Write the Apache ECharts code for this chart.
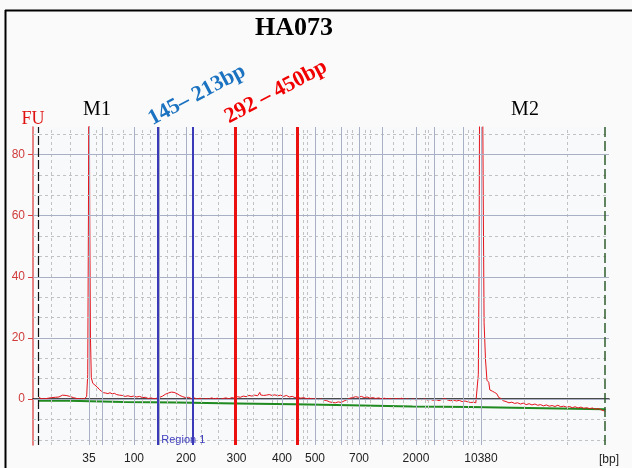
<!DOCTYPE html>
<html>
<head>
<meta charset="utf-8">
<script src="https://cdn.jsdelivr.net/npm/echarts@6/dist/echarts.min.js"></script>
<style>
  html, body { margin: 0; padding: 0; background: #fafafa; }
  #chart { width: 632px; height: 468px; }
</style>
</head>
<body>
<div id="chart"></div>
<script>
// x axis is migration time (s); bp ladder sits at these times
const ladderBp = [35, 50, 100, 150, 200, 300, 400, 500, 600, 700, 1000, 2000, 3000, 7000, 10380]
const ladderTime = [47.78, 49.65, 54.03, 57.5, 61.25, 68.26, 74.58, 79.17, 82.78, 85.28, 88.47, 93.19, 95.69, 99.72, 102.22]
const labeledBp = [35, 100, 200, 300, 400, 500, 700, 2000, 10380]
const minorGridTime = [42.5, 45.14, 48.75, 50.97, 52.5, 55.14, 56.25, 58.61, 59.86, 63.33, 65.69, 69.72, 70.56,
  73.19, 73.89, 77.5, 78.06, 80.28, 81.53, 83.61, 84.31, 86.11, 86.81, 90.0, 91.39, 94.44, 94.86, 96.94,
  98.19, 100.42, 101.11, 108.19, 114.17]
const fuTicks = [0, 20, 40, 60, 80]
const fuMinor = [-13.33, -6.67, 6.67, 13.33, 26.67, 33.33, 46.67, 53.33, 66.67, 73.33, 86.67]

const region1Time = [57.26, 62.12]   // 145 - 213 bp
const region2Time = [68.06, 76.67]   // 292 - 450 bp
const markerLow = 40.76
const markerHigh = 119.44

// electropherogram trace [time, FU]
const trace = [
  [40.8, 0.6], [41.1, 0.2], [41.3, 0.5], [41.6, 0.1], [41.8, 0.5], [42.1, 0.3], [42.3, 0.1], [42.6, 0.5],
  [42.8, 0.3], [43.1, 0.6], [43.3, 0.2], [43.6, 0.7], [43.8, 0.9], [44.1, 1.3], [44.3, 1.0], [44.6, 1.2],
  [44.8, 0.8], [45.1, 0.9], [45.3, 0.4], [45.6, 0.5], [45.8, 0.1], [46.1, 0.2], [46.3, -0.1], [46.6, 0.1],
  [46.8, -0.2], [47.1, 0.1], [47.3, 0.3], [47.45, 0.8],
  [47.6, 8], [47.7, 60], [47.78, 130], [47.88, 60], [47.98, 20], [48.1, 7], [48.3, 5.2], [48.6, 4.6],
  [48.9, 4.0], [49.2, 3.2], [49.5, 2.6], [49.8, 2.1], [50.1, 2.0], [50.4, 1.8], [50.7, 2.1], [51.0, 1.7],
  [51.3, 1.9], [51.6, 1.5], [52.0, 1.3], [52.4, 1.2], [52.8, 0.9], [53.2, 1.1], [53.6, 0.8], [54.0, 1.0],
  [54.4, 0.7], [54.8, 0.9], [55.2, 0.5], [55.6, 0.6], [56.0, 0.2], [56.4, 0.4], [56.8, 0.1], [57.2, 0.3],
  [57.6, 0.6], [58.0, 1.0], [58.4, 1.6], [58.8, 2.0], [59.2, 2.3], [59.6, 2.2], [60.0, 1.8], [60.4, 1.2],
  [60.8, 0.8], [61.2, 0.5], [61.6, 0.6], [62.0, 0.2], [62.4, 0.4], [62.8, 0.0], [63.2, 0.3], [63.6, -0.1],
  [64.0, 0.2], [64.4, 0.0], [64.8, 0.4], [65.2, 0.1], [65.6, 0.3], [66.0, -0.1], [66.4, 0.2], [66.8, 0.4],
  [67.2, 0.1], [67.6, 0.5], [68.0, 0.3], [68.4, 0.8], [68.8, 0.6], [69.2, 1.0], [69.6, 0.8], [70.0, 1.2],
  [70.4, 1.0], [70.8, 1.3], [71.2, 1.1], [71.5, 2.2], [71.6, 1.4], [72.0, 1.2], [72.4, 1.3], [72.8, 1.5],
  [73.2, 1.2], [73.6, 1.4], [74.0, 1.1], [74.4, 1.3], [74.8, 0.9], [75.2, 1.2], [75.6, 0.7], [76.0, 0.9],
  [76.4, 0.5], [76.8, 0.6], [77.2, 0.3], [77.6, 0.5], [78.0, 0.1], [78.4, 0.3], [78.8, 0.0], [79.2, 0.2],
  [79.6, -0.2], [80.0, 0.1], [80.4, -0.3], [80.8, -0.5], [81.2, -0.9], [81.6, -1.1], [82.0, -1.2], [82.4, -0.9],
  [82.8, -1.1], [83.2, -0.6], [83.6, -0.2], [84.0, 0.3], [84.4, 0.5], [84.8, 0.8], [85.2, 0.6], [85.6, 0.9],
  [86.0, 0.5], [86.4, 0.7], [86.8, 0.3], [87.2, 0.5], [87.6, 0.2], [88.0, 0.4], [88.4, 0.1], [88.8, 0.3],
  [89.2, 0.0], [89.6, 0.2], [90.0, -0.1], [90.4, 0.2], [90.8, 0.0], [91.2, 0.3], [91.6, -0.1], [92.0, 0.1],
  [92.4, -0.2], [92.8, 0.1], [93.2, -0.3], [93.6, 0.0], [94.0, -0.2], [94.4, 0.1], [94.8, -0.3], [95.2, -0.1],
  [95.6, -0.4], [96.0, -0.2], [96.4, -0.5], [96.8, -0.1], [97.2, 0.2], [97.6, -0.3], [98.0, -0.5], [98.4, -0.3],
  [98.8, -0.6], [99.2, -0.4], [99.6, -0.8], [100.0, -0.6], [100.4, -0.9], [100.8, -1.1], [101.2, -1.0],
  [101.5, -1.2], [101.7, -1.0], [101.85, 8], [101.95, 40], [102.05, 120], [102.1, 125], [102.35, 140],
  [102.55, 60], [102.65, 25], [102.85, 12.8], [103.05, 6.2], [103.3, 5.5], [103.45, 3.0], [103.8, 2.6],
  [104.1, 2.2], [104.4, 1.8], [104.7, 0.5], [105.0, 0.2], [105.3, -0.5], [105.7, -0.8], [106.1, -1.2],
  [106.5, -1.0], [106.9, -1.4], [107.3, -1.2], [107.7, -1.6], [108.1, -1.3], [108.5, -1.8], [108.9, -1.5],
  [109.3, -1.9], [109.7, -1.6], [110.1, -2.0], [110.5, -1.8], [110.9, -2.2], [111.3, -1.9], [111.7, -2.3],
  [112.1, -2.1], [112.5, -2.4], [112.9, -2.0], [113.3, -2.5], [113.7, -2.3], [114.1, -2.6], [114.5, -2.4],
  [114.9, -2.8], [115.3, -2.5], [115.7, -2.9], [116.1, -2.6], [116.5, -3.0], [116.9, -2.8], [117.3, -3.1],
  [117.7, -2.9], [118.1, -3.3], [118.5, -3.1], [118.9, -3.5], [119.3, -3.8], [119.5, -4.0]
]

// baseline (stepped)
const baseline = [
  [40.8, -0.5], [45.0, -0.9], [52.6, -1.1], [60.0, -1.4], [68.3, -1.7], [76.3, -2.0], [84.0, -2.4],
  [92.7, -2.6], [100.7, -2.9], [108.8, -3.3], [119.4, -3.6]
]

const chart = echarts.init(document.getElementById('chart'))

const vLines = (arr) => arr.map(t => ({ xAxis: t }))
const hLines = (arr) => arr.map(v => ({ yAxis: v }))
const mark = (data, lineStyle) => ({
  silent: true, symbol: 'none', animation: false,
  label: { show: false }, emphasis: { disabled: true },
  lineStyle, data
})
const bpFor = (t) => {
  const i = ladderTime.findIndex(v => Math.abs(v - t) < 0.001)
  return i < 0 ? '' : String(ladderBp[i])
}
const labelTimes = labeledBp.map(bp => ladderTime[ladderBp.indexOf(bp)])

chart.setOption({
  backgroundColor: '#fafafa',
  animation: false,
  grid: { left: 33, right: 23, top: 127, bottom: 23, show: true, backgroundColor: '#f8f9fb', borderWidth: 0 },
  xAxis: {
    type: 'value', min: 40, max: 120,
    axisLine: { lineStyle: { color: '#111', width: 1.5 } },
    axisTick: { customValues: ladderTime, length: 5, lineStyle: { color: '#222' } },
    axisLabel: {
      customValues: labelTimes, formatter: bpFor, margin: 8,
      color: '#222', fontFamily: 'Liberation Sans', fontSize: 12
    },
    splitLine: { show: false }
  },
  yAxis: {
    type: 'value', min: -15, max: 89,
    axisLine: { show: true, lineStyle: { color: '#e05a5a', width: 1.5 } },
    axisTick: { show: true, customValues: fuTicks, length: 5, lineStyle: { color: '#d84040' } },
    axisLabel: {
      customValues: fuTicks, margin: 8,
      color: '#d03c3c', fontFamily: 'Liberation Sans', fontSize: 12
    },
    splitLine: { show: false }
  },
  series: [
    {
      type: 'line', data: [], z: 1,
      markLine: mark(vLines(minorGridTime).concat(hLines(fuMinor)),
        { color: '#c2c2c2', type: [3, 3], width: 1 })
    },
    {
      type: 'line', data: [], z: 1,
      markLine: mark(vLines(ladderTime).concat(hLines(fuTicks)),
        { color: '#a9b0c6', type: 'solid', width: 1 })
    },
    {
      type: 'line', data: baseline, step: 'end', z: 3, showSymbol: false, silent: true,
      lineStyle: { color: '#1f8a1f', width: 2 }
    },
    {
      type: 'line', data: trace, z: 3, showSymbol: false, silent: true, clip: true,
      lineStyle: { color: '#e3141c', width: 1 }
    },
    {
      type: 'line', data: [], z: 2,
      markLine: mark([{ xAxis: markerLow }], { color: '#111', type: [9, 3], width: 1.2 })
    },
    {
      type: 'line', data: [], z: 2,
      markLine: mark([{ xAxis: markerHigh }], { color: '#2e5e2e', type: [10, 4], width: 1.5 })
    },
    {
      type: 'line', data: [], z: 4,
      markLine: mark(vLines(region1Time), { color: '#3a3ab8', type: 'solid', width: 2 })
    },
    {
      type: 'line', data: [], z: 4,
      markLine: mark(vLines(region2Time), { color: '#ea1010', type: 'solid', width: 3 })
    }
  ]
})

// annotations
const rx = chart.convertToPixel({ xAxisIndex: 0 }, region1Time[0])
const bottomY = chart.convertToPixel({ yAxisIndex: 0 }, -15)
const serif = 'Liberation Serif'
chart.setOption({
  graphic: [
    { type: 'line', shape: { x1: 5, y1: 10.5, x2: 640, y2: 10.5 }, style: { stroke: '#000', lineWidth: 2 } },
    { type: 'line', shape: { x1: 5.5, y1: 10, x2: 5.5, y2: 470 }, style: { stroke: '#000', lineWidth: 2 } },
    { type: 'text', x: 294, y: 28, style: { text: 'HA073', fill: '#000', font: 'bold 26px ' + serif, align: 'center', verticalAlign: 'middle' } },
    { type: 'text', x: 97, y: 110, style: { text: 'M1', fill: '#000', font: '20px ' + serif, align: 'center', verticalAlign: 'middle' } },
    { type: 'text', x: 525, y: 110, style: { text: 'M2', fill: '#000', font: '20px ' + serif, align: 'center', verticalAlign: 'middle' } },
    { type: 'text', x: 33, y: 119, style: { text: 'FU', fill: '#e01010', font: '18px ' + serif, align: 'center', verticalAlign: 'middle' } },
    { type: 'text', x: 197, y: 95, rotation: 28 * Math.PI / 180, style: { text: '145– 213bp', fill: '#1a72c0', font: 'bold 22px ' + serif, align: 'center', verticalAlign: 'middle' } },
    { type: 'text', x: 276, y: 92, rotation: 28 * Math.PI / 180, style: { text: '292 – 450bp', fill: '#f00000', font: 'bold 22px ' + serif, align: 'center', verticalAlign: 'middle' } },
    { type: 'text', x: 609, y: 460, style: { text: '[bp]', fill: '#222', font: '12px Liberation Sans', align: 'center', verticalAlign: 'middle' } },
    { type: 'text', x: rx + 4, y: bottomY - 5, z: 10, style: { text: 'Region 1', fill: '#4040c0', font: '11px Liberation Sans', align: 'left', verticalAlign: 'middle' } }
  ]
})
</script>
</body>
</html>
